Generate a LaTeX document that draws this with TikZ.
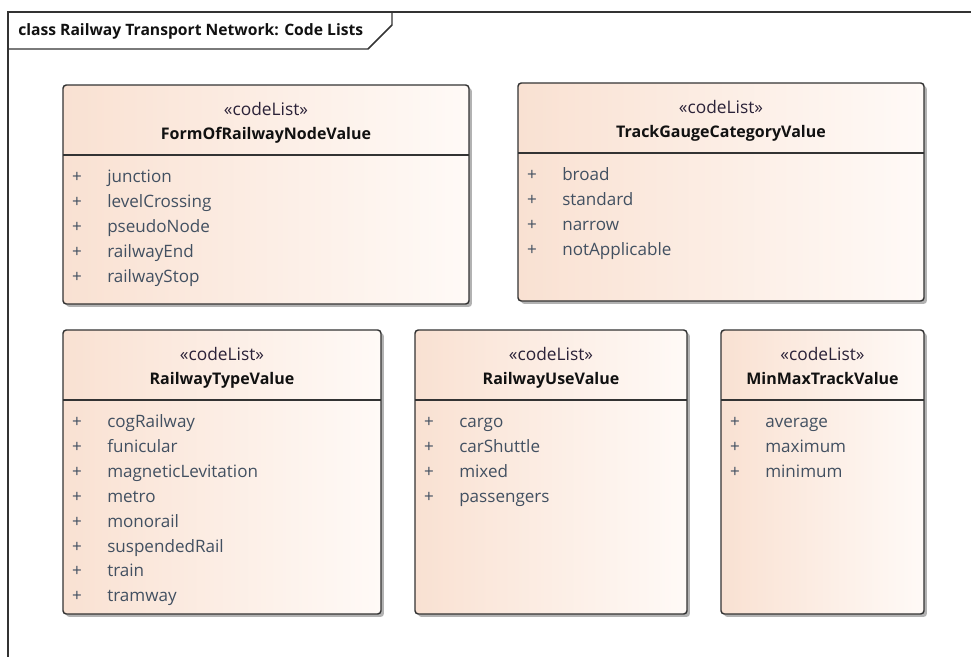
\documentclass[tikz,border=0pt]{standalone}
\usepackage{fontspec}
\setmainfont{Open Sans}
\usetikzlibrary{shadows,fit}
\definecolor{peach}{HTML}{F9E1D2}
\definecolor{peachlt}{HTML}{FFFAF7}
\definecolor{attrc}{HTML}{425061}
\definecolor{stereoc}{HTML}{2B2238}
\definecolor{namec}{HTML}{111111}
\definecolor{linec}{HTML}{333333}
\tikzset{
  cls/.style={draw=linec, line width=1.1pt, rounded corners=2.5pt, inner sep=0pt,
    left color=peach, right color=peachlt,
    drop shadow={shadow xshift=2.2pt, shadow yshift=-2.2pt, opacity=0.3, fill=black}},
  sepline/.style={draw=linec, line width=1.1pt},
  stereo/.style={anchor=mid, inner sep=0pt, text=stereoc, font=\fontsize{13}{15}\selectfont},
  clsname/.style={anchor=mid, inner sep=0pt, text=namec, font=\fontsize{12}{14}\selectfont\bfseries},
  plussign/.style={anchor=mid, inner sep=0pt, text=attrc, font=\fontsize{12.8}{15}\selectfont},
  attrtxt/.style={anchor=mid west, inner sep=0pt, text=attrc, font=\fontsize{12.8}{15}\selectfont},
  frameline/.style={draw=linec, line width=1.1pt},
  titletxt/.style={anchor=mid west, inner sep=0pt, text=namec, font=\fontsize{11.75}{14}\selectfont\bfseries}
}
% #1 id, #2 x1, #3 y1, #4 x2, #5 y2, #6 name, #7 attributes
\newcommand\umlcodelist[7]{%
  \node[cls, fit={(#2,#3) (#4,#5)}] (#1) {};
  \draw[sepline] (#2,#3+70) -- (#4,#3+70);
  \node[stereo] (#1-st) at ({(#2+#4)/2},#3+27) {«codeList»};
  \node[clsname] (#1-nm) at ({(#2+#4)/2},#3+51) {#6};
  \foreach \a [count=\i] in {#7} {
    \node[plussign] (#1-p\i) at (#2+14,{#3+94+(\i-1)*24.9}) {+};
    \node[attrtxt] (#1-a\i) at (#2+44,{#3+94+(\i-1)*24.9}) {\a};
  }
}
\begin{document}
\begin{tikzpicture}[x=0.75pt,y=-0.75pt]
\useasboundingbox (0,0) rectangle (971,657);
% frame
\draw[frameline] (971,12) -- (8,12) -- (8,657);
\draw[frameline] (392,12) -- (392,25) -- (368,49) -- (8,49);
\node[titletxt] (title) at (18,32) {class Railway Transport Network: Code Lists};
\umlcodelist{form}{63}{85}{469}{304}{FormOfRailwayNodeValue}{junction,levelCrossing,pseudoNode,railwayEnd,railwayStop}
\umlcodelist{gauge}{518}{83}{924}{301}{TrackGaugeCategoryValue}{broad,standard,narrow,notApplicable}
\umlcodelist{type}{63}{330}{381}{614}{RailwayTypeValue}{cogRailway,funicular,magneticLevitation,metro,monorail,suspendedRail,train,tramway}
\umlcodelist{use}{415}{330}{687}{614}{RailwayUseValue}{cargo,carShuttle,mixed,passengers}
\umlcodelist{minmax}{721}{330}{924}{614}{MinMaxTrackValue}{average,maximum,minimum}
\end{tikzpicture}
\end{document}
